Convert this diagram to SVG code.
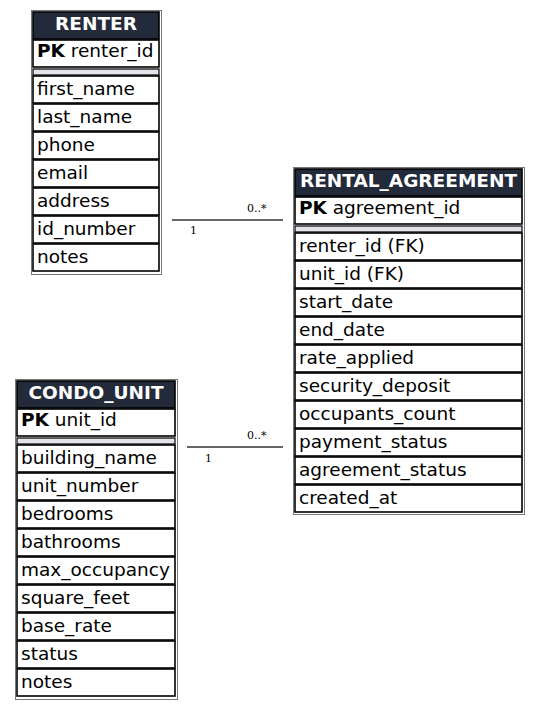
<svg xmlns="http://www.w3.org/2000/svg" width="540" height="709" viewBox="0 0 540 709">
<style>
.outer{fill:none;stroke:#777;stroke-width:1}
.cell{fill:#fff;stroke:#000;stroke-width:1.6}
.hdr{fill:#232b3b;stroke:#000;stroke-width:1.6}
.sep{fill:#e4e4ea;stroke:#000;stroke-width:1.2}
.ht{font-family:"DejaVu Sans",sans-serif;font-size:18.5px;font-weight:bold;fill:#fff;text-anchor:middle}
.t{font-family:"DejaVu Sans",sans-serif;font-size:18.5px;fill:#000}
.b{font-weight:bold}
.edge{stroke:#333;stroke-width:1.6;fill:none}
.lbl{font-family:"DejaVu Serif","Liberation Serif",serif;font-size:11px;fill:#000}
</style>
<rect width="540" height="709" fill="#fff"/>
<g id="edges">
<line class="edge" x1="172" y1="220" x2="283" y2="220"/>
<text class="lbl" x="247" y="212">0..*</text>
<text class="lbl" x="190" y="234">1</text>
<line class="edge" x1="187" y1="447" x2="283" y2="447"/>
<text class="lbl" x="247" y="439">0..*</text>
<text class="lbl" x="205" y="462">1</text>
</g>
<g id="renter">
<rect class="outer" x="31.5" y="10.5" width="130" height="264"/>
<rect class="hdr" x="33" y="12" width="126" height="27"/>
<text class="ht" x="96" y="30">RENTER</text>
<rect class="cell" x="33" y="40" width="126" height="27"/>
<text class="t" x="37" y="57"><tspan class="b">PK</tspan> renter_id</text>
<rect class="sep" x="33" y="69" width="126" height="6"/>
<rect class="cell" x="33" y="76" width="126" height="27"/><text class="t" x="37" y="95">first_name</text>
<rect class="cell" x="33" y="104" width="126" height="27"/><text class="t" x="37" y="123">last_name</text>
<rect class="cell" x="33" y="132" width="126" height="27"/><text class="t" x="37" y="151">phone</text>
<rect class="cell" x="33" y="160" width="126" height="27"/><text class="t" x="37" y="179">email</text>
<rect class="cell" x="33" y="188" width="126" height="27"/><text class="t" x="37" y="207">address</text>
<rect class="cell" x="33" y="216" width="126" height="27"/><text class="t" x="37" y="235">id_number</text>
<rect class="cell" x="33" y="244" width="126" height="27"/><text class="t" x="37" y="263">notes</text>
</g>
<g id="rental_agreement">
<rect class="outer" x="293.5" y="167.5" width="231" height="347"/>
<rect class="hdr" x="295" y="169" width="227" height="27"/>
<text class="ht" x="408.5" y="187">RENTAL_AGREEMENT</text>
<rect class="cell" x="295" y="197" width="227" height="27"/>
<text class="t" x="299" y="214"><tspan class="b">PK</tspan> agreement_id</text>
<rect class="sep" x="295" y="226" width="227" height="6"/>
<rect class="cell" x="295" y="233" width="227" height="27"/><text class="t" x="299" y="252">renter_id (FK)</text>
<rect class="cell" x="295" y="261" width="227" height="27"/><text class="t" x="299" y="280">unit_id (FK)</text>
<rect class="cell" x="295" y="289" width="227" height="27"/><text class="t" x="299" y="308">start_date</text>
<rect class="cell" x="295" y="317" width="227" height="27"/><text class="t" x="299" y="336">end_date</text>
<rect class="cell" x="295" y="345" width="227" height="27"/><text class="t" x="299" y="364">rate_applied</text>
<rect class="cell" x="295" y="373" width="227" height="27"/><text class="t" x="299" y="392">security_deposit</text>
<rect class="cell" x="295" y="401" width="227" height="27"/><text class="t" x="299" y="420">occupants_count</text>
<rect class="cell" x="295" y="429" width="227" height="27"/><text class="t" x="299" y="448">payment_status</text>
<rect class="cell" x="295" y="457" width="227" height="27"/><text class="t" x="299" y="476">agreement_status</text>
<rect class="cell" x="295" y="485" width="227" height="27"/><text class="t" x="299" y="504">created_at</text>
</g>
<g id="condo_unit">
<rect class="outer" x="15.5" y="379.5" width="162" height="320"/>
<rect class="hdr" x="17" y="381" width="158" height="27"/>
<text class="ht" x="96" y="399">CONDO_UNIT</text>
<rect class="cell" x="17" y="409" width="158" height="27"/>
<text class="t" x="21" y="426"><tspan class="b">PK</tspan> unit_id</text>
<rect class="sep" x="17" y="438" width="158" height="6"/>
<rect class="cell" x="17" y="445" width="158" height="27"/><text class="t" x="21" y="464">building_name</text>
<rect class="cell" x="17" y="473" width="158" height="27"/><text class="t" x="21" y="492">unit_number</text>
<rect class="cell" x="17" y="501" width="158" height="27"/><text class="t" x="21" y="520">bedrooms</text>
<rect class="cell" x="17" y="529" width="158" height="27"/><text class="t" x="21" y="548">bathrooms</text>
<rect class="cell" x="17" y="557" width="158" height="27"/><text class="t" x="21" y="576">max_occupancy</text>
<rect class="cell" x="17" y="585" width="158" height="27"/><text class="t" x="21" y="604">square_feet</text>
<rect class="cell" x="17" y="613" width="158" height="27"/><text class="t" x="21" y="632">base_rate</text>
<rect class="cell" x="17" y="641" width="158" height="27"/><text class="t" x="21" y="660">status</text>
<rect class="cell" x="17" y="669" width="158" height="27"/><text class="t" x="21" y="688">notes</text>
</g>
</svg>
